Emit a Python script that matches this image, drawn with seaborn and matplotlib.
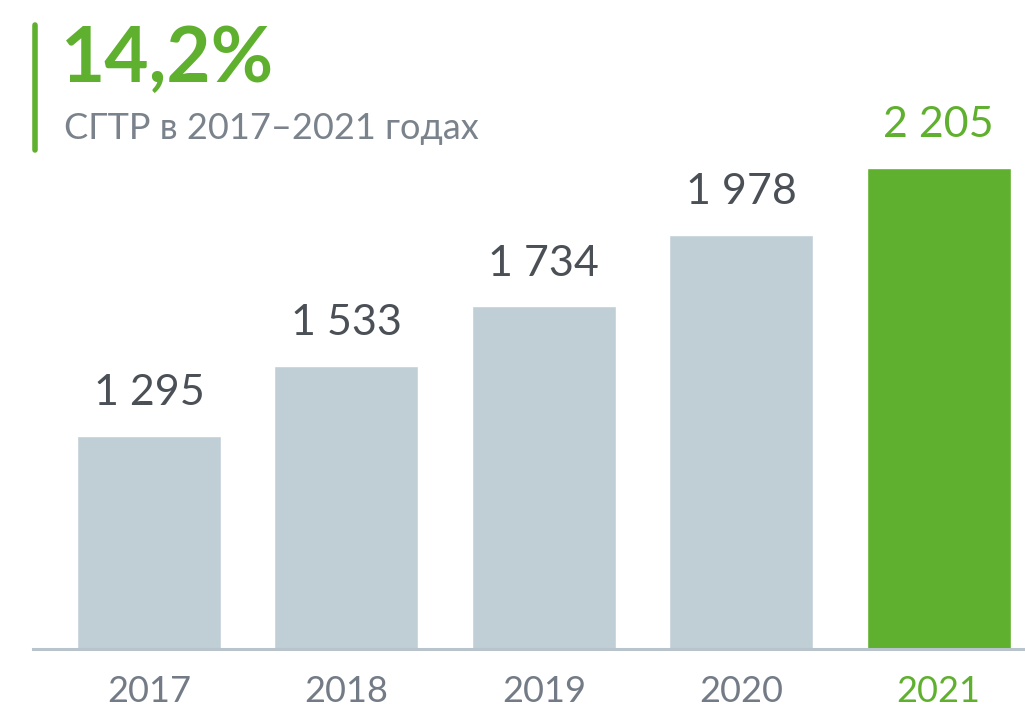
import matplotlib
matplotlib.use("Agg")
import matplotlib.pyplot as plt
import seaborn as sns
import pandas as pd

years = ["2017", "2018", "2019", "2020", "2021"]
values = [1295, 1533, 1734, 1978, 2205]
labels = ["1 295", "1 533", "1 734", "1 978", "2 205"]
headline = "14,2%"
subtitle = "СГТР в 2017–2021 годах"

GREEN = "#5fb02e"
GREY_BAR = "#c0ced6"
DARK = "#4b5057"
TICK_GREY = "#737b86"
SUB_GREY = "#7a828c"

sns.set_theme(style="white")
plt.rcParams["font.family"] = ["Lato", "DejaVu Sans"]

df = pd.DataFrame({"year": years, "value": values})
colors = [GREY_BAR] * (len(years) - 1) + [GREEN]

W, H = 1025, 708
fig = plt.figure(figsize=(W / 100, H / 100), dpi=100)
ax_left, ax_right = 33 / W, 1.0
ax_bottom, ax_top = (H - 649) / H, (H - 60) / H
ax = fig.add_axes([ax_left, ax_bottom, ax_right - ax_left, ax_top - ax_bottom])

sns.barplot(data=df, x="year", y="value", hue="year", palette=colors,
            legend=False, width=0.73, saturation=1, ax=ax)

ax.set_xlim(-0.588, 4.438)
ax.set_ylim(569, 2572)

for i, (v, lab) in enumerate(zip(values, labels)):
    c = GREEN if i == len(values) - 1 else DARK
    ax.annotate(lab, xy=(i, v), xytext=(0, 17), textcoords="offset points",
                ha="center", va="bottom", fontsize=31, color=c, clip_on=False)

for s in ["top", "right", "left"]:
    ax.spines[s].set_visible(False)
ax.spines["bottom"].set_color("#b9c3cc")
ax.spines["bottom"].set_linewidth(2.2)
ax.set_yticks([])
ax.set_xlabel("")
ax.set_ylabel("")
ax.tick_params(axis="x", length=0, pad=19, labelsize=26)
for i, t in enumerate(ax.get_xticklabels()):
    t.set_color(GREEN if i == len(years) - 1 else TICK_GREY)

# headline block with green accent bar
fig.add_artist(plt.Line2D([35 / W, 35 / W], [1 - 25 / H, 1 - 150 / H],
                          color=GREEN, linewidth=4))
fig.text(61 / W, 1 - 82 / H, headline, fontsize=55, fontweight="bold",
         color=GREEN, ha="left", va="baseline")
fig.text(64 / W, 1 - 139 / H, subtitle, fontsize=26, color=SUB_GREY,
         ha="left", va="baseline")

fig.savefig("out.png", dpi=100, facecolor="white")
